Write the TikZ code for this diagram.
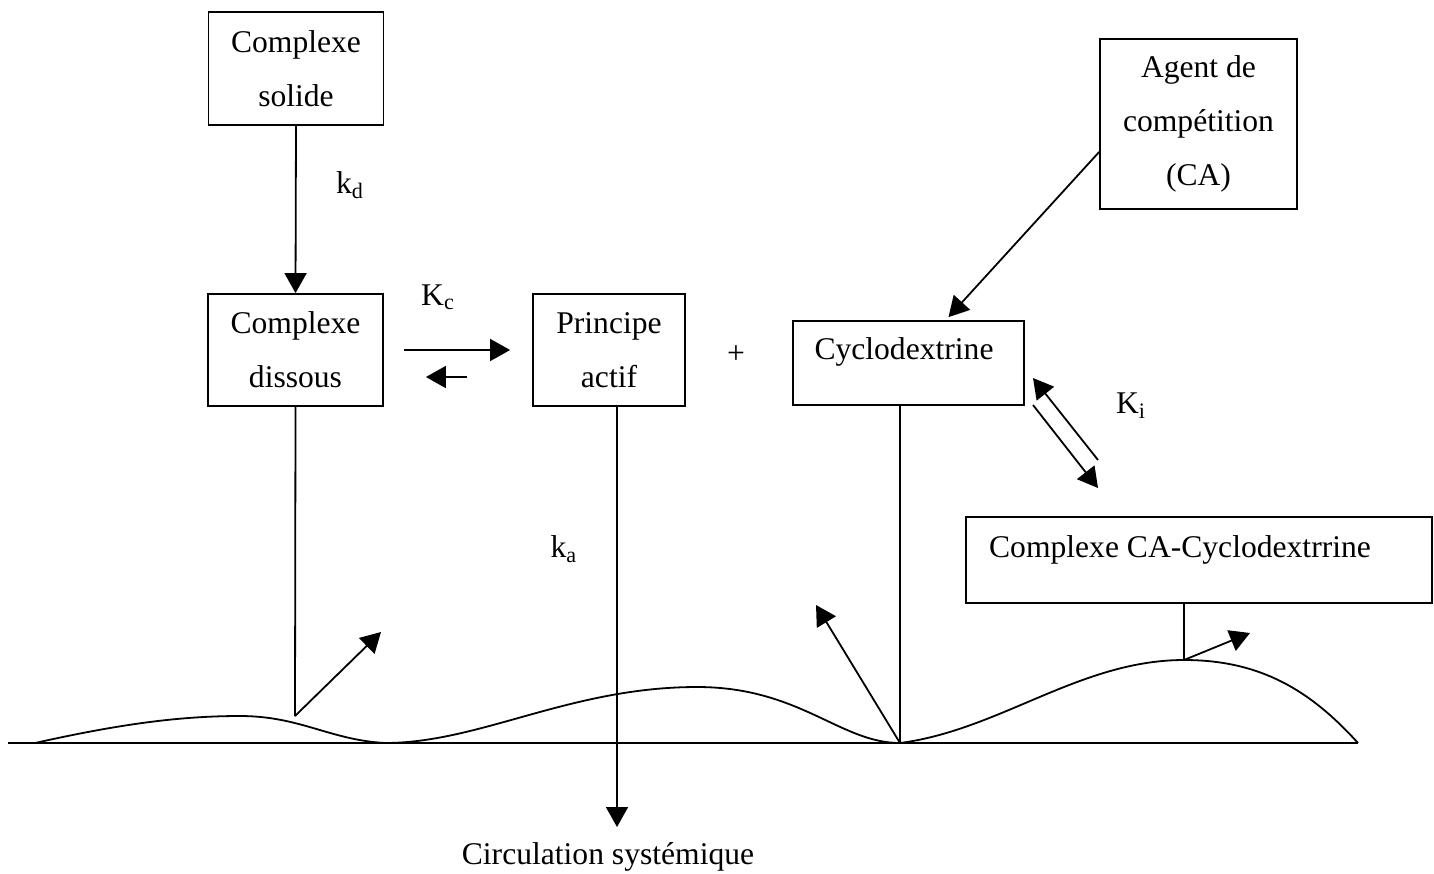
\documentclass[tikz,border=0pt]{standalone}
\usepackage{fontspec}
\setmainfont{Liberation Serif}
\usetikzlibrary{arrows.meta, positioning}

\tikzset{
	box/.style={draw, line width=0.9pt, align=center, inner sep=0pt},
	tipline/.style={-{Triangle[length=10pt,width=11pt]}, line width=0.9pt},
}

\begin{document}
\begin{tikzpicture}[x=0.5pt, y=-0.5pt, line width=0.9pt,
		every node/.style={font=\fontsize{15.8}{27}\selectfont}]
		\useasboundingbox (0,0) rectangle (1434,873);
		% boxes
		\node[box, minimum width=87.5pt, minimum height=56.5pt] (solide) at (296,68.5) {Complexe\\solide};
		\node[box, minimum width=87.5pt, minimum height=56pt] (dissous) at (295.5,350) {Complexe\\dissous};
		\node[box, minimum width=76pt, minimum height=56pt] (actif) at (609,350) {Principe\\actif};
		\node[box, minimum width=115.5pt, minimum height=42pt] (cyclo) at (908.5,363) {};
		\node (cyclotext) at (904,352) {Cyclodextrine};
		\node[box, minimum width=98.5pt, minimum height=85pt] (agent) at (1198.5,124) {Agent de\\compétition\\(CA)};
		\node[box, minimum width=233pt, minimum height=43pt] (cacyclo) at (1199,560) {};
		\node (cacyclotext) at (1180,550) {Complexe CA-Cyclodextrrine};
		% labels
		\node (kd) at (350,185) {k\textsubscript{d}};
		\node (Kc) at (438,297) {K\textsubscript{c}};
		\node (plus) at (736,355) {+};
		\node (Ki) at (1131,406) {K\textsubscript{i}};
		\node (ka) at (564,549) {k\textsubscript{a}};
		\node (circ) at (608,857) {Circulation systémique};
		% free ends
		\coordinate (kiup0) at (1098,460);
		\coordinate (kiup1) at (1033,378);
		\coordinate (kidn0) at (1033,405);
		\coordinate (kidn1) at (1098,488);
		\coordinate (p1) at (295,716);
		\coordinate (q1) at (381,632);
		\coordinate (p2) at (617,827);
		\coordinate (p3) at (900,743);
		\coordinate (q3) at (816,605);
		\coordinate (p4) at (1184,660);
		\coordinate (q4) at (1250,633);
		% ground and curve
		\draw (8,743) -- (1358,743);
		\draw (35,743) .. controls (120,724) and (180,716) .. (240,716) .. controls (300,716) and (330,740) .. (385,743);
		\draw (385,743) .. controls (480,743) and (570,687) .. (697,687) .. controls (800,687) and (840,743) .. (900,743);
		\draw (900,743) .. controls (1000,730) and (1080,660) .. (1184,660) .. controls (1260,660) and (1310,690) .. (1358,743);
		% arrows
		\path[tipline]
		(solide.south) edge (dissous.north)
		([xshift=10pt]dissous.east) edge ([xshift=-11pt]actif.west)
		([xshift=-32.5pt,yshift=-13.5pt]actif.west) edge ([xshift=21pt,yshift=-13.5pt]dissous.east)
		([yshift=-14pt]agent.west) edge ([xshift=20pt,yshift=1.5pt]cyclo.north)
		(kiup0) edge (kiup1)
		(kidn0) edge (kidn1)
		([xshift=4pt]actif.south) edge (p2)
		(p1) edge (q1)
		(p3) edge (q3)
		(p4) edge (q4)
		;
		\draw (dissous.south) -- (p1);
		\draw ([xshift=-4.25pt]cyclo.south) -- (p3);
		\draw ([xshift=-7.5pt]cacyclo.south) -- (p4);
	\end{tikzpicture}
\end{document}
